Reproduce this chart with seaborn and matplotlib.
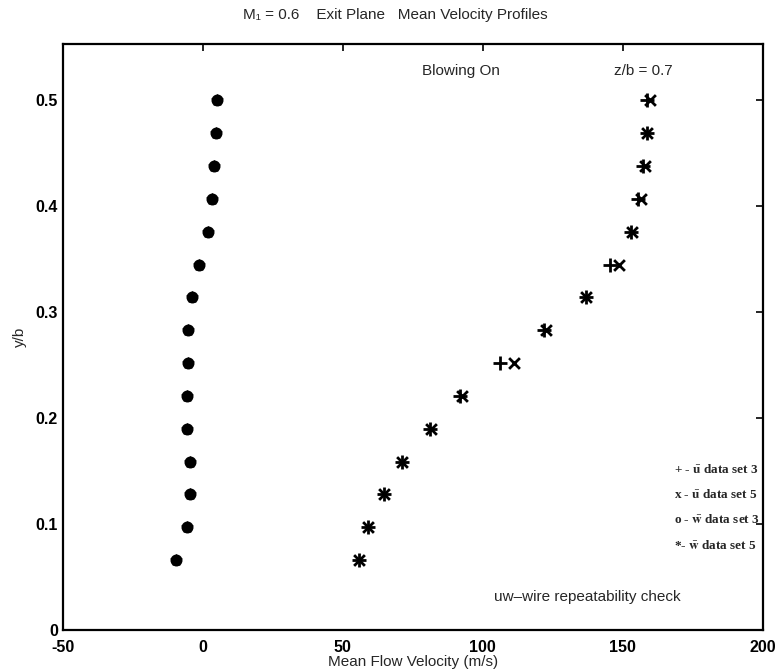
import matplotlib
matplotlib.use("Agg")
import matplotlib.pyplot as plt
import seaborn as sns

# y/b positions (bottom -> top)
y_b = [0.066, 0.097, 0.128, 0.159, 0.190, 0.221, 0.252, 0.283,
       0.314, 0.345, 0.376, 0.407, 0.438, 0.469, 0.500]

# u-bar, data set 3 (+) and data set 5 (x)
u_set3 = [55.8, 59.0, 64.6, 71.1, 81.3, 91.8, 106.1, 122.0,
          136.9, 145.6, 153.0, 155.6, 157.2, 158.7, 158.8]
u_set5 = [55.8, 59.0, 64.9, 71.1, 81.6, 92.6, 111.2, 122.6,
          136.9, 148.6, 153.3, 156.5, 158.0, 158.7, 159.8]

# w-bar, data set 3 (o) and data set 5 (*)
w_set3 = [-9.4, -5.6, -4.6, -4.6, -5.8, -5.8, -5.1, -5.1,
          -4.0, -1.2, 1.9, 3.3, 4.2, 4.8, 5.0]
w_set5 = [-9.4, -5.6, -4.6, -4.6, -5.8, -5.8, -5.1, -5.1,
          -4.0, -1.2, 1.9, 3.3, 4.2, 4.8, 5.0]

x_ticks = [-50, 0, 50, 100, 150, 200]
y_ticks = [0, 0.1, 0.2, 0.3, 0.4, 0.5]

sns.set_style("white")
plt.rcParams["font.family"] = ["Liberation Sans", "DejaVu Sans"]
plt.rcParams["mathtext.fontset"] = "stix"

fig = plt.figure(figsize=(7.75, 6.71), dpi=100)
ax = fig.add_axes([0.081, 0.061, 0.903, 0.873])

sns.scatterplot(x=u_set3, y=y_b, marker="+", s=90, color="black",
                linewidth=2.0, ax=ax)
sns.scatterplot(x=u_set5, y=y_b, marker="x", s=60, color="black",
                linewidth=2.0, ax=ax)
# the two w sets overlap into solid blobs in the reference
sns.scatterplot(x=w_set3, y=y_b, marker="o", s=55, color="black",
                edgecolor="black", linewidth=1.2, ax=ax)
sns.scatterplot(x=w_set5, y=y_b, marker="*", s=65, color="black",
                edgecolor="black", linewidth=1.0, ax=ax)

ax.set_xlim(-50, 200)
ax.set_ylim(0, 0.553)
ax.set_xticks(x_ticks)
ax.set_yticks(y_ticks)
ax.set_xticklabels([str(t) for t in x_ticks])
ax.set_yticklabels(["0", "0.1", "0.2", "0.3", "0.4", "0.5"])
ax.tick_params(direction="in", length=5, width=1.2, top=True, right=True,
               labelsize=11.5, colors="black")
ax.tick_params(axis="x", pad=7)
for lab in ax.get_xticklabels() + ax.get_yticklabels():
    lab.set_fontweight("bold")
for s in ax.spines.values():
    s.set_linewidth(1.6)
    s.set_color("black")

ax.set_xlabel("Mean Flow Velocity (m/s)", fontsize=11, labelpad=0)
ax.set_ylabel("y/b", fontsize=11, labelpad=6)

fig.text(0.51, 0.978, "M\u2081 = 0.6    Exit Plane   Mean Velocity Profiles",
         ha="center", va="center", fontsize=11)

ax.text(92.3, 0.528, "Blowing On", ha="center", va="center", fontsize=11)
ax.text(146.8, 0.528, "z/b = 0.7", ha="left", va="center", fontsize=11)
ax.text(104, 0.031, "uw\u2013wire repeatability check", ha="left",
        va="center", fontsize=11)

legend_lines = [r"+ - $\bar{\mathbf{u}}$ data set 3",
                r"x - $\bar{\mathbf{u}}$ data set 5",
                r"o - $\bar{\mathbf{w}}$ data set 3",
                r"*- $\bar{\mathbf{w}}$ data set 5"]
legend_y = [0.152, 0.128, 0.104, 0.080]
for txt, yy in zip(legend_lines, legend_y):
    ax.text(168.5, yy, txt, ha="left", va="center", fontsize=9.5,
            family="Liberation Serif", fontweight="bold")

plt.savefig("out.png", dpi=100)
